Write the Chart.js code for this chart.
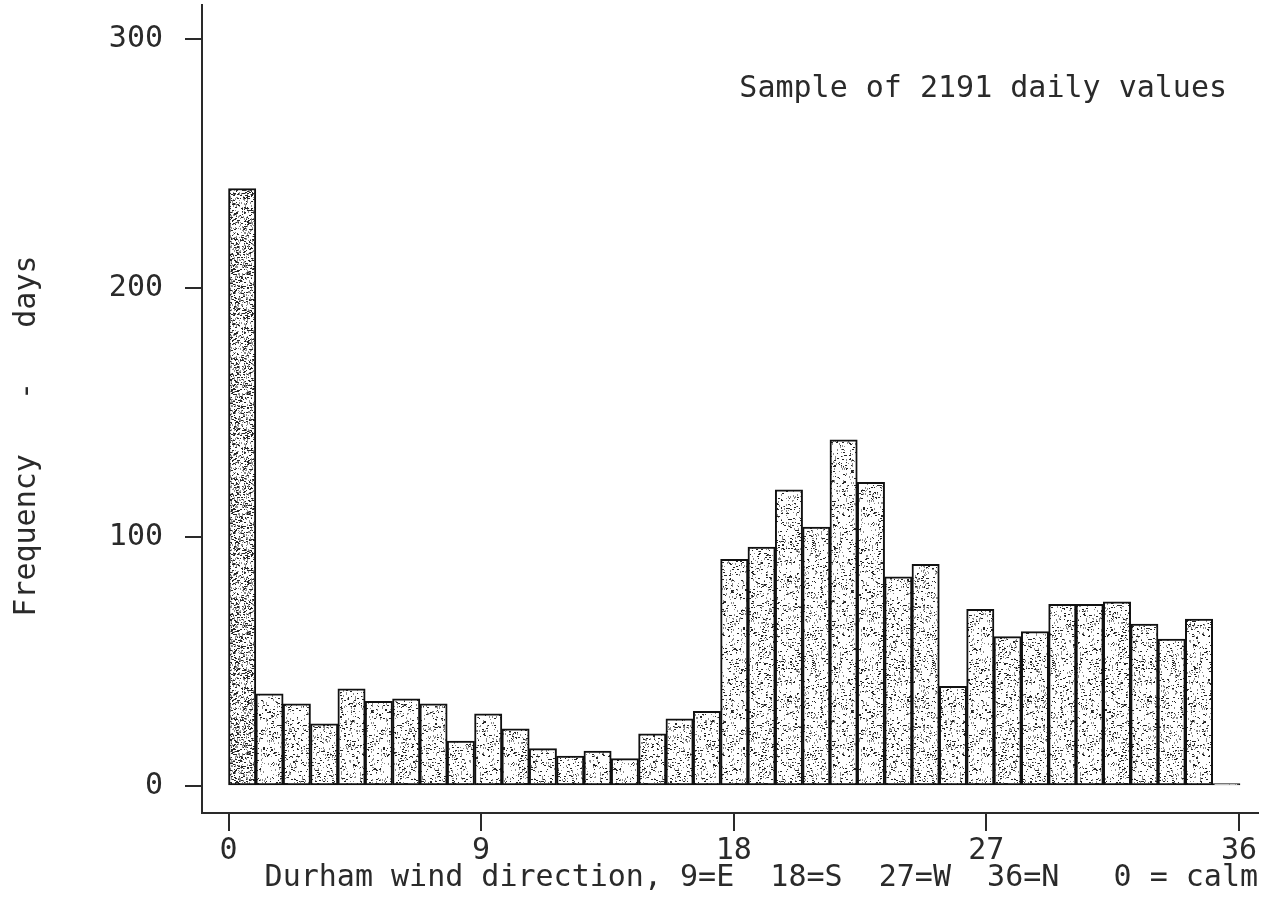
<!DOCTYPE html>
<html>
<head>
<meta charset="utf-8">
<title>Durham wind direction</title>
<script src="https://cdn.jsdelivr.net/npm/chart.js@4"></script>
<style>
  html, body { margin: 0; padding: 0; background: #fff; }
  #wrap { width: 1264px; height: 903px; position: relative; }
</style>
</head>
<body>
<div id="wrap"><canvas id="windChart"></canvas></div>
<script>
// wind direction classes (tens of degrees), 0 = calm
var directions = [0, 1, 2, 3, 4, 5, 6, 7, 8, 9, 10, 11, 12, 13, 14, 15, 16, 17, 18,
  19, 20, 21, 22, 23, 24, 25, 26, 27, 28, 29, 30, 31, 32, 33, 34, 35, 36];
// number of days in each class
var frequencies = [240, 37, 33, 25, 39, 34, 35, 33, 18, 29, 23, 15, 12, 14, 11, 21, 27, 30, 91,
  96, 119, 104, 139, 122, 84, 89, 40, 71, 60, 62, 73, 73, 74, 65, 59, 67, 1];
var xTickValues = [0, 9, 18, 27, 36];
var yTickValues = [0, 100, 200, 300];

var FONT = { family: '"DejaVu Sans Mono", monospace', size: 30 };
var INK = '#2a2a2a';

// stippled fill, like the old plotter shading
function stipple(density, seed) {
  var S = 120;
  var c = document.createElement('canvas');
  c.width = S; c.height = S;
  var g = c.getContext('2d');
  g.fillStyle = '#ffffff';
  g.fillRect(0, 0, S, S);
  function next() { seed = (seed * 16807) % 2147483647; return seed / 2147483647; }
  var n = Math.round(S * S * density);
  for (var i = 0; i < n; i++) {
    var px = Math.floor(next() * S), py = Math.floor(next() * S);
    var r = next();
    g.fillStyle = r < 0.5 ? '#262626' : '#8c8c8c';
    g.fillRect(px, py, r < 0.3 ? 2 : 1, r > 0.75 ? 2 : 1);
  }
  return g.createPattern(c, 'repeat');
}
var light = stipple(0.12, 12345);
var dense = stipple(0.3, 777);

var fills = directions.map(function (d) { return d === 0 ? dense : light; });

var sampleNote = {
  id: 'sampleNote',
  afterDraw: function (chart) {
    var ctx = chart.ctx, a = chart.chartArea;
    ctx.save();
    ctx.font = FONT.size + 'px ' + FONT.family;
    ctx.fillStyle = INK;
    ctx.textAlign = 'right';
    ctx.textBaseline = 'alphabetic';
    ctx.fillText('Sample of 2191 daily values', a.right - 31, a.top + 92);
    ctx.restore();
  }
};

var ctx = document.getElementById('windChart').getContext('2d');
var windChart = new Chart(ctx, {
  type: 'bar',
  data: {
    datasets: [{
      data: directions.map(function (d, i) { return { x: d, y: frequencies[i] }; }),
      backgroundColor: fills,
      borderColor: '#111',
      borderWidth: 2,
      borderSkipped: false,
      barPercentage: 1,
      categoryPercentage: 1,
      xAxisID: 'x',
      yAxisID: 'y'
    }]
  },
  options: {
    responsive: true,
    maintainAspectRatio: false,
    animation: false,
    events: [],
    layout: { padding: { top: 5, left: 0, right: 6, bottom: 0 } },
    plugins: { legend: { display: false }, tooltip: { enabled: false } },
    scales: {
      // bar positions, one unit per class
      x: {
        type: 'linear',
        display: false,
        offset: false,
        grid: { offset: false },
        min: -1.4694,
        max: 37.158
      },
      // labelled axis, 0..36 across the span of the bars
      xTicks: {
        type: 'linear',
        position: 'bottom',
        bounds: 'data',
        offset: false,
        min: -0.9441,
        max: 36.677,
        afterBuildTicks: function (s) { s.ticks = xTickValues.map(function (v) { return { value: v }; }); },
        afterFit: function (s) { s.height = 90; s.paddingLeft = 0; s.paddingRight = 0; },
        grid: { offset: false, drawOnChartArea: false, drawTicks: true, tickLength: 18, color: INK, lineWidth: 2 },
        border: { display: true, color: INK, width: 2 },
        ticks: { font: FONT, color: INK, padding: 2, maxRotation: 0, autoSkip: false },
        title: {
          display: true,
          align: 'end',
          text: 'Durham wind direction, 9=E  18=S  27=W  36=N   0 = calm',
          font: FONT,
          color: INK,
          padding: { top: 0, bottom: 7 }
        }
      },
      y: {
        type: 'linear',
        bounds: 'data',
        min: -10.84,
        max: 313.7,
        afterBuildTicks: function (s) { s.ticks = yTickValues.map(function (v) { return { value: v }; }); },
        afterFit: function (s) { s.width = 202; s.paddingTop = 0; s.paddingBottom = 0; },
        grid: { drawOnChartArea: false, drawTicks: true, tickLength: 17, color: INK, lineWidth: 2 },
        border: { display: true, color: INK, width: 2 },
        ticks: { font: FONT, color: INK, padding: 22 },
        title: {
          display: true,
          text: 'Frequency   -   days   ',
          font: FONT,
          color: INK,
          padding: { top: 9, bottom: 0 }
        }
      }
    }
  },
  plugins: [sampleNote]
});
</script>
</body>
</html>
